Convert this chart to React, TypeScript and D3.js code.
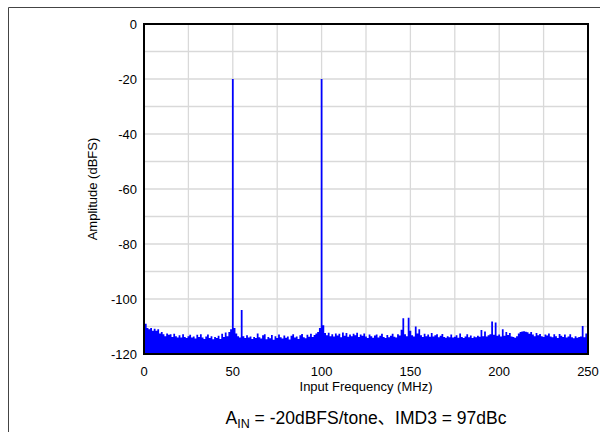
import React from "react";
import * as d3 from "d3";

const amplitudes: number[] = [
  -107, -109, -110.5, -111, -110.5, -111.5, -110.8, -111.5, -111, -112.5,
  -112, -112.8, -113.5, -112.5, -113, -112.8, -113.8, -112.6, -113.5, -114,
  -113.2, -114, -112.8, -113.8, -114.2, -113.5, -113, -114, -113.6, -114.4,
  -113, -113.8, -112.8, -114, -114.5, -113.6, -112.9, -114.2, -113.5, -114.6,
  -113.8, -114.2, -113.4, -114.5, -112.6, -113.8, -112.2, -113.5, -112, -111,
  -20, -110.5, -112.5, -113.5, -114, -104, -113.5, -114.2, -113.2, -114,
  -113.6, -114.5, -113.8, -114.2, -112.5, -113.9, -114.4, -113.2, -112.8, -114.6,
  -113.8, -114.3, -113.1, -114.8, -113.5, -114.2, -112.9, -113.9, -114.4, -113.3,
  -114.1, -113.6, -114.7, -113.4, -112.8, -114, -113.6, -114.5, -113.2, -112.7,
  -113.9, -114.3, -113, -113.7, -112.6, -113.8, -113.1, -112.5, -112, -110.5,
  -20, -109.5, -112.4, -113.2, -112.3, -113.5, -112.8, -113.6, -112.5, -113.3,
  -112.6, -113.9, -112.2, -113.4, -112.4, -113.7, -112.9, -113.5, -112.6, -113.2,
  -112.3, -113.8, -112.9, -113.4, -112.5, -113.6, -114.2, -112.9, -113.5, -114.1,
  -113.3, -112.9, -114, -113.4, -112.6, -113.8, -114.2, -113.1, -113.9, -113.4,
  -112.6, -113.7, -114, -112.8, -113.3, -111.2, -107, -112.8, -113.5, -106.8,
  -111.5, -113.2, -113.6, -110, -112.5, -111, -113.2, -113.8, -112.6, -113.5,
  -112.9, -113.7, -112.4, -113.6, -113.2, -112.8, -113.9, -113.4, -112.7, -113.8,
  -114.1, -113.5, -113.9, -112.9, -114, -113.7, -113.2, -114.1, -112.5, -113.8,
  -114.2, -113.6, -112.8, -113.9, -113.3, -114.2, -113.6, -113.9, -113.4, -113.7,
  -111.3, -113.5, -111.8, -113.6, -113.2, -112.8, -108.2, -113, -108.5, -113.4,
  -112.9, -113.6, -111, -113.4, -112, -113.1, -112.4, -113.6, -113.8, -114.1,
  -113.5, -112.5, -112, -111.8, -111.7, -111.9, -112.1, -112.6, -112, -112.9,
  -113.5, -112.4, -113.2, -112.7, -113.5, -113.8, -112.9, -113.3, -112.5, -113.6,
  -113.9, -112.8, -113.5, -114.2, -112.7, -113.4, -113.8, -112.9, -114, -113.6,
  -112.8, -113.9, -114.3, -113.5, -114.1, -113.8, -113.6, -109.8, -113.9, -112.5,
  -113.2,
];
const freqStep = 1; // MHz per bin
const xTicks: number[] = [0, 50, 100, 150, 200, 250];
const xGrid: number[] = [25, 50, 75, 100, 125, 150, 175, 200, 225];
const yTicks: number[] = [0, -20, -40, -60, -80, -100, -120];
const yGrid: number[] = [-10, -20, -30, -40, -50, -60, -70, -80, -90, -100, -110];

const W = 600;
const H = 432;
const M = { left: 144, top: 24, right: 588, bottom: 354 };
const FONT = "'Liberation Sans', Arial, 'Noto Sans CJK SC', sans-serif";

export default function App() {
  const x = d3.scaleLinear().domain([0, 250]).range([M.left, M.right]);
  const y = d3.scaleLinear().domain([-120, 0]).range([M.bottom, M.top]);
  const data = amplitudes.map((v, i) => ({ f: i * freqStep, v }));
  const area = d3
    .area<{ f: number; v: number }>()
    .x((d) => x(d.f))
    .y0(y(-120))
    .y1((d) => y(d.v))
    .curve(d3.curveStep);
  const cx = (M.left + M.right) / 2;
  const cy = (M.top + M.bottom) / 2;

  return (
    <svg
      width={W}
      height={H}
      style={{ position: "fixed", left: 0, top: 0, background: "#fff", display: "block", overflow: "hidden" }}
      fontFamily={FONT}
    >
      <defs>
        <clipPath id="plotclip">
          <rect x={M.left} y={M.top} width={M.right - M.left} height={M.bottom - M.top} />
        </clipPath>
      </defs>
      <rect x={0} y={0} width={W} height={H} fill="#fff" />
      <path d="M8.5,432 V7.5 H600" fill="none" stroke="#444" strokeWidth={1} />
      {xGrid.map((g) => (
        <line key={"xg" + g} x1={x(g)} x2={x(g)} y1={M.top} y2={M.bottom} stroke="#d9d9d9" strokeWidth={1.3} />
      ))}
      {yGrid.map((g) => (
        <line key={"yg" + g} x1={M.left} x2={M.right} y1={y(g)} y2={y(g)} stroke="#d9d9d9" strokeWidth={1.3} />
      ))}
      <path d={area(data) || ""} fill="#0000ff" stroke="none" clipPath="url(#plotclip)" />
      <rect
        x={M.left}
        y={M.top}
        width={M.right - M.left}
        height={M.bottom - M.top}
        fill="none"
        stroke="#000"
        strokeWidth={2}
      />
      {yTicks.map((t) => (
        <text key={"yt" + t} x={137} y={y(t)} dy="0.35em" textAnchor="end" fontSize={13} fill="#000">
          {t}
        </text>
      ))}
      {xTicks.map((t) => (
        <text key={"xt" + t} x={x(t)} y={375.5} textAnchor="middle" fontSize={13} fill="#000">
          {t}
        </text>
      ))}
      <text x={cx} y={391} textAnchor="middle" fontSize={13} fill="#000">
        Input Frequency (MHz)
      </text>
      <text
        transform={`translate(97,${cy}) rotate(-90)`}
        textAnchor="middle"
        fontSize={13}
        fill="#000"
      >
        Amplitude (dBFS)
      </text>
      <text x={cx} y={424} textAnchor="middle" fontSize={17.5} fill="#000">
        A
        <tspan fontSize={12.5} dy={4}>IN</tspan>
        <tspan dy={-4}> = -20dBFS/tone、IMD3 = 97dBc</tspan>
      </text>
    </svg>
  );
}
